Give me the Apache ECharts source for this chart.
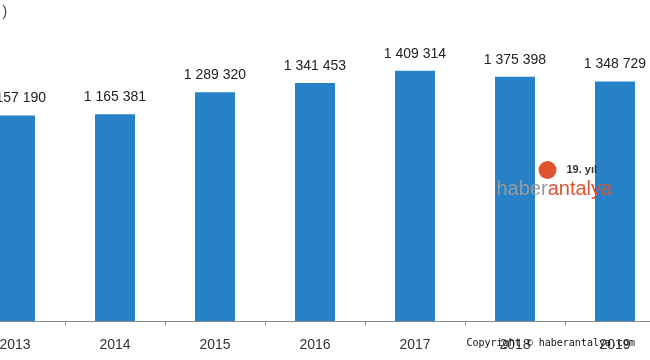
<!DOCTYPE html>
<html>
<head>
<meta charset="utf-8">
<script src="https://cdn.jsdelivr.net/npm/echarts@6/dist/echarts.min.js"></script>
<style>html,body{margin:0;padding:0;background:#fff;overflow:hidden;width:650px;height:360px;}#c{width:700px;height:360px;position:absolute;left:-35.5px;top:0;}</style>
</head>
<body>
<div id="c"></div>
<script>
const years = ['2013', '2014', '2015', '2016', '2017', '2018', '2019'];
const values = [1157190, 1165381, 1289320, 1341453, 1409314, 1375398, 1348729];

function fmt(v) {
  return String(v).replace(/\B(?=(\d{3})+(?!\d))/g, ' ');
}

const OFF = 35.5;
const chart = echarts.init(document.getElementById('c'));
chart.setOption({
  animation: false,
  backgroundColor: '#fff',
  title: {
    text: ')',
    left: -3 + OFF, top: 0,
    textStyle: { fontFamily: 'Liberation Sans', fontSize: 14, fontWeight: 'normal', color: '#444' }
  },
  grid: { left: 0, right: 0, top: 37, bottom: 39, containLabel: false },
  xAxis: {
    type: 'category',
    data: years,
    axisLine: { lineStyle: { color: '#8a8a8a', width: 1 } },
    axisTick: { show: true, alignWithLabel: false, length: 4, lineStyle: { color: '#8a8a8a' } },
    axisLabel: { fontFamily: 'Liberation Sans', fontSize: 14, color: '#333', margin: 17 }
  },
  yAxis: {
    type: 'value', min: 0, max: 1600000, show: false,
    splitLine: { show: false }
  },
  series: [{
    type: 'bar',
    data: values,
    barWidth: '40%',
    itemStyle: { color: '#2681c6' },
    label: {
      show: true, position: 'top', distance: 10,
      fontFamily: 'Liberation Sans', fontSize: 14, color: '#222',
      formatter: p => fmt(p.value)
    }
  }],
  graphic: [
    { type: 'circle', z: 100, shape: { cx: 547 + OFF, cy: 170, r: 9 }, style: { fill: '#e0532e' } },
    { type: 'text', z: 100, left: 566 + OFF, top: 164, style: { text: '19. yıl', font: 'bold 11px "Liberation Sans"', fill: '#333' } },
    { type: 'text', z: 100, left: 496 + OFF, top: 179, style: {
        text: '{g|haber}{o|antalya}',
        rich: {
          g: { font: '20px "Liberation Sans"', fill: '#999', color: '#999' },
          o: { font: '20px "Liberation Sans"', fill: '#e0532e', color: '#e0532e' }
        }
      } },
    { type: 'text', z: 100, left: 466 + OFF, top: 338, style: { text: 'Copyright © haberantalya.com', font: '10px "DejaVu Sans Mono"', fill: '#111' } }
  ]
});
</script>
</body>
</html>
